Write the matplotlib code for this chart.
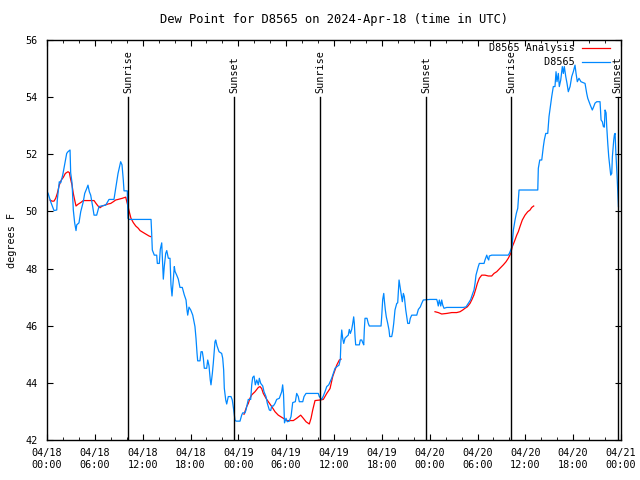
import numpy as np
import pandas as pd
import matplotlib
matplotlib.use("Agg")
import matplotlib.pyplot as plt
import matplotlib.dates as mdates

plt.rcParams['font.family'] = ['DejaVu Sans Mono']
plt.rcParams['font.size'] = 7.3

t0 = pd.Timestamp("2024-04-18 00:00")

# D8565 observations (hours since 04/18 00:00 UTC, deg F)
obs_hours = [0.13, 0.46, 0.88, 1.22, 1.29, 1.54, 1.72, 1.97, 2.47, 2.63, 2.89, 2.97, 3.14, 3.30,
             3.47, 3.64, 3.73, 4.01, 4.23, 4.55, 4.73, 4.98, 5.14, 5.31, 5.48, 5.73, 5.90, 6.23,
             6.52, 6.81, 7.36, 7.78, 8.40, 8.91, 9.24, 9.41, 9.57, 9.66, 10.07, 10.16, 10.29, 13.05,
             13.13, 13.21, 13.46, 13.76, 13.84, 14.09, 14.21, 14.39, 14.46, 14.59, 14.71, 14.89, 15.02,
             15.22, 15.43, 15.55, 15.68, 15.77, 15.97, 16.06, 16.27, 16.47, 16.68, 16.97, 17.22, 17.44,
             17.56, 17.65, 17.81, 18.03, 18.28, 18.44, 18.56, 18.69, 18.82, 18.90, 19.19, 19.32, 19.48,
             19.61, 19.73, 20.03, 20.16, 20.32, 20.48, 20.57, 20.74, 20.86, 21.07, 21.16, 21.32, 21.58,
             21.91, 22.04, 22.16, 22.24, 22.42, 22.54, 22.74, 23.08, 23.24, 23.42, 23.58, 23.71, 24.21,
             24.42, 24.55, 24.84, 24.96, 25.25, 25.55, 25.68, 25.80, 25.97, 26.13, 26.31, 26.51, 26.63,
             26.81, 27.06, 27.22, 27.47, 27.64, 27.89, 28.06, 28.19, 28.39, 28.60, 28.81, 29.14, 29.44,
             29.56, 29.67, 29.79, 29.98, 30.14, 30.39, 30.61, 30.82, 31.15, 31.32, 31.52, 31.65, 32.08,
             32.24, 32.49, 34.03, 34.16, 34.33, 34.46, 34.66, 34.87, 35.09, 35.34, 35.71, 35.91, 36.13,
             36.38, 36.63, 36.79, 36.88, 36.97, 37.09, 37.22, 37.38, 37.59, 37.79, 37.92, 38.05, 38.22,
             38.35, 38.47, 38.55, 38.64, 38.72, 39.18, 39.30, 39.48, 39.60, 39.73, 39.80, 39.89, 40.14,
             40.30, 40.43, 41.90, 41.98, 42.11, 42.24, 42.31, 42.44, 42.56, 42.74, 42.90, 42.99, 43.24,
             43.36, 43.49, 43.65, 43.87, 43.99, 44.16, 44.28, 44.41, 44.57, 44.70, 44.82, 45.00, 45.16,
             45.25, 45.45, 45.57, 45.75, 46.38, 46.58, 46.83, 47.00, 47.20, 48.04, 48.88, 48.96, 49.08,
             49.21, 49.39, 49.51, 49.64, 49.80, 50.14, 52.22, 52.56, 52.98, 53.15, 53.40, 53.56, 53.69,
             53.81, 53.98, 54.10, 54.23, 54.82, 54.94, 55.16, 55.28, 55.41, 55.48, 55.78, 57.86, 57.99,
             58.17, 58.33, 58.50, 58.71, 58.87, 59.05, 59.21, 61.56, 61.63, 61.81, 62.06, 62.26, 62.38,
             62.56, 62.81, 62.97, 63.14, 63.31, 63.51, 63.72, 63.85, 63.97, 64.14, 64.26, 64.44, 64.64,
             64.77, 64.89, 65.07, 65.23, 65.39, 65.61, 65.82, 66.02, 66.23, 66.36, 66.52, 66.73, 66.98,
             67.49, 67.70, 67.83, 67.99, 68.15, 68.40, 68.58, 68.74, 68.96, 69.37, 69.50, 69.66, 69.79,
             69.91, 70.00, 70.13, 70.21, 70.34, 70.46, 70.59, 70.71, 70.84, 70.92, 71.09, 71.17, 71.26,
             71.34, 71.51, 71.68]
obs_vals = [50.64, 50.34, 50.03, 50.05, 50.4, 51.04, 51.0, 51.27, 52.03, 52.09, 52.15, 51.35, 51.0, 50.05,
            49.6, 49.33, 49.53, 49.6, 49.99, 50.34, 50.63, 50.8, 50.92, 50.69, 50.57, 50.17, 49.87, 49.87,
            50.17, 50.19, 50.22, 50.42, 50.42, 51.33, 51.74, 51.63, 51.1, 50.72, 50.72, 49.76, 49.72, 49.72,
            49.23, 48.65, 48.47, 48.47, 48.18, 48.18, 48.67, 48.9, 48.47, 47.63, 48.07, 48.53, 48.63,
            48.36, 48.36, 47.43, 47.04, 47.37, 48.07, 47.9, 47.77, 47.63, 47.34, 47.34, 47.08, 46.9,
            46.55, 46.37, 46.65, 46.55, 46.37, 46.14, 45.97, 45.56, 45.03, 44.77, 44.77, 45.09, 45.09,
            44.86, 44.51, 44.51, 44.8, 44.6, 44.1, 43.93, 44.33, 44.69, 45.44, 45.5, 45.3, 45.09,
            45.03, 44.86, 44.45, 43.81, 43.4, 43.26, 43.52, 43.52, 43.4, 43.05, 42.7, 42.66, 42.66,
            42.87, 42.95, 42.95, 43.05, 43.42, 43.42, 43.93, 44.19, 44.24, 43.93, 44.1, 43.93, 44.16,
            43.98, 43.89, 43.69, 43.52, 43.28, 43.05, 43.03, 43.19, 43.19, 43.28, 43.42, 43.46, 43.69,
            43.93, 43.6, 42.6, 42.76, 42.64, 42.66, 42.82, 43.31, 43.34, 43.63, 43.52, 43.34, 43.34,
            43.52, 43.63, 43.63, 43.52, 43.46, 43.42, 43.54, 43.69, 43.87, 43.93, 44.16, 44.33, 44.51,
            44.57, 44.62, 44.82, 45.5, 45.85, 45.56, 45.38, 45.56, 45.62, 45.67, 45.87, 45.73, 45.87,
            46.08, 46.31, 46.08, 45.62, 45.33, 45.33, 45.5, 45.5, 45.41, 45.33, 45.85, 46.26, 46.26,
            46.08, 45.99, 45.99, 46.31, 46.92, 47.13, 46.9, 46.55, 46.31, 46.08, 45.85, 45.62, 45.62,
            45.79, 46.08, 46.55, 46.78, 46.8, 47.6, 47.37, 47.13, 46.84, 47.13, 47.02, 46.55, 46.26,
            46.08, 46.08, 46.26, 46.37, 46.37, 46.57, 46.66, 46.78, 46.9, 46.92, 46.92, 46.85, 46.69,
            46.9, 46.69, 46.9, 46.72, 46.61, 46.64, 46.64, 46.66, 46.84, 46.92, 47.13, 47.25, 47.48,
            47.77, 47.95, 48.07, 48.18, 48.18, 48.3, 48.47, 48.36, 48.3, 48.44, 48.47, 48.47, 48.53,
            48.65, 48.77, 49.35, 49.7, 49.93, 50.11, 50.75, 50.75, 51.51, 51.8, 51.8, 52.27, 52.5,
            52.73, 52.73, 53.32, 53.67, 54.02, 54.37, 54.37, 54.89, 54.54, 54.83, 54.37, 54.6, 55.07,
            54.83, 55.07, 54.72, 54.48, 54.19, 54.37, 54.72, 54.89, 55.12, 54.83, 54.54, 54.66, 54.54,
            54.48, 54.13, 53.96, 53.84, 53.72, 53.55, 53.67, 53.79, 53.84, 53.84, 53.2, 53.14, 52.97,
            52.95, 53.55, 53.45, 52.97, 52.38, 51.92, 51.57, 51.27, 51.33, 51.92, 52.5, 52.68, 52.73,
            52.15, 51.22, 50.17]

# D8565 Analysis (NaN = gap)
ana_hours = [0.38, 0.63, 0.88, 1.09, 1.29, 1.54, 1.79, 2.04, 2.30, 2.63, 2.80, 2.97, 3.14, 3.30, 3.47,
             3.64, 3.89, 4.23, 4.55, 5.90, 6.15, 6.40, 6.65, 6.94, 7.24, 7.65, 7.99, 8.32, 8.62, 8.91,
             9.45, 9.87, 10.07, 10.32, 10.53, 10.82, 11.13, 11.45, 11.67, 12.08, 12.38, 12.80, 12.98,
             18.0,
             24.71, 25.05, 25.25, 25.46, 25.68, 26.09, 26.51, 26.72, 26.93, 27.13, 27.47, 27.76, 28.19,
             28.60, 29.01, 29.64, 30.07, 30.90, 31.32, 31.82, 32.15, 32.49, 32.90, 33.12, 33.33, 33.62,
             34.25, 34.66, 35.09, 35.50, 35.84, 36.13, 36.34, 36.67, 36.88,
             42.0,
             48.67, 49.08, 49.51, 50.14, 50.77, 51.39, 51.81, 52.15, 52.43, 52.72, 53.06, 53.31, 53.56,
             53.81, 53.98, 54.23, 54.53, 54.94, 55.36, 55.78, 56.07, 56.41, 56.82, 57.24, 57.58, 57.86,
             58.17, 58.37, 58.62, 58.92, 59.12, 59.33, 59.62, 59.96, 60.30, 60.59, 60.80, 61.05]
ana_vals = [50.4, 50.36, 50.36, 50.46, 50.63, 50.92, 51.1, 51.19, 51.33, 51.39, 51.36, 51.12, 50.92,
            50.63, 50.4, 50.19, 50.25, 50.31, 50.38, 50.38, 50.28, 50.19, 50.13, 50.19, 50.22, 50.26,
            50.28, 50.34, 50.4, 50.42, 50.46, 50.5, 50.28, 49.99, 49.76, 49.61, 49.49, 49.41, 49.33,
            49.26, 49.21, 49.14, 49.12,
            np.nan,
            42.9, 43.17, 43.28, 43.46, 43.58, 43.69, 43.84, 43.87, 43.8, 43.63, 43.46, 43.34, 43.17,
            42.99, 42.87, 42.76, 42.68, 42.68, 42.76, 42.87, 42.76, 42.64, 42.56, 42.76, 43.05, 43.38,
            43.4, 43.42, 43.63, 43.8, 44.22, 44.45, 44.62, 44.8, 44.83,
            np.nan,
            46.49, 46.46, 46.41, 46.43, 46.46, 46.46, 46.49, 46.55, 46.61, 46.66, 46.78, 46.92, 47.08,
            47.31, 47.48, 47.66, 47.77, 47.77, 47.74, 47.74, 47.83, 47.89, 48.01, 48.13, 48.24, 48.36,
            48.53, 48.77, 48.94, 49.17, 49.29, 49.47, 49.7, 49.87, 49.99, 50.05, 50.14, 50.19]

sun_hours = [10.20, 23.49, 34.28, 47.58, 58.24, 71.59]
sun_labels = ["Sunrise", "Sunset", "Sunrise", "Sunset", "Sunrise", "Sunset"]

obs_t = t0 + pd.to_timedelta(obs_hours, unit="h")
ana_t = t0 + pd.to_timedelta(ana_hours, unit="h")
sun_t = t0 + pd.to_timedelta(sun_hours, unit="h")

fig = plt.figure(figsize=(6.4, 4.8), dpi=100)
ax = fig.add_axes([47/640, 40/480, 574/640, 400/480])

ax.plot(ana_t, ana_vals, color="#ff0000", lw=0.9, label="D8565 Analysis")
ax.plot(obs_t, obs_vals, color="#0088ff", lw=0.9, label="         D8565")

for t, lab in zip(sun_t, sun_labels):
    ax.plot([t, t], [42, 54.0], color="black", lw=1)
    ax.text(t, 54.15, lab, rotation=90, ha="center", va="bottom")

ax.set_xlim(t0, t0 + pd.Timedelta(hours=72))
ax.set_ylim(42, 56)
ax.set_yticks(np.arange(42, 57, 2))
ax.xaxis.set_major_locator(mdates.HourLocator(byhour=[0, 6, 12, 18]))
ax.xaxis.set_minor_locator(mdates.HourLocator(byhour=range(0, 24, 2)))
ax.xaxis.set_major_formatter(mdates.DateFormatter("%m/%d\n%H:%M"))
ax.tick_params(which="both", direction="in", top=True, right=True)
ax.tick_params(which="major", length=4.5, pad=6)
ax.tick_params(which="minor", length=2.5)
ax.tick_params(axis="y", pad=7)
for s in ax.spines.values():
    s.set_linewidth(1)

ax.set_ylabel("degrees F", labelpad=6)
ax.set_title("Dew Point for D8565 on 2024-Apr-18 (time in UTC)", pad=12)

ax.legend(loc="upper right", frameon=False, markerfirst=False, handlelength=2.8,
          handletextpad=0.7, labelspacing=0.4, borderaxespad=0,
          bbox_to_anchor=(1 - 7/574, 1 + 1/400))

fig.savefig("out.png", dpi=100)
